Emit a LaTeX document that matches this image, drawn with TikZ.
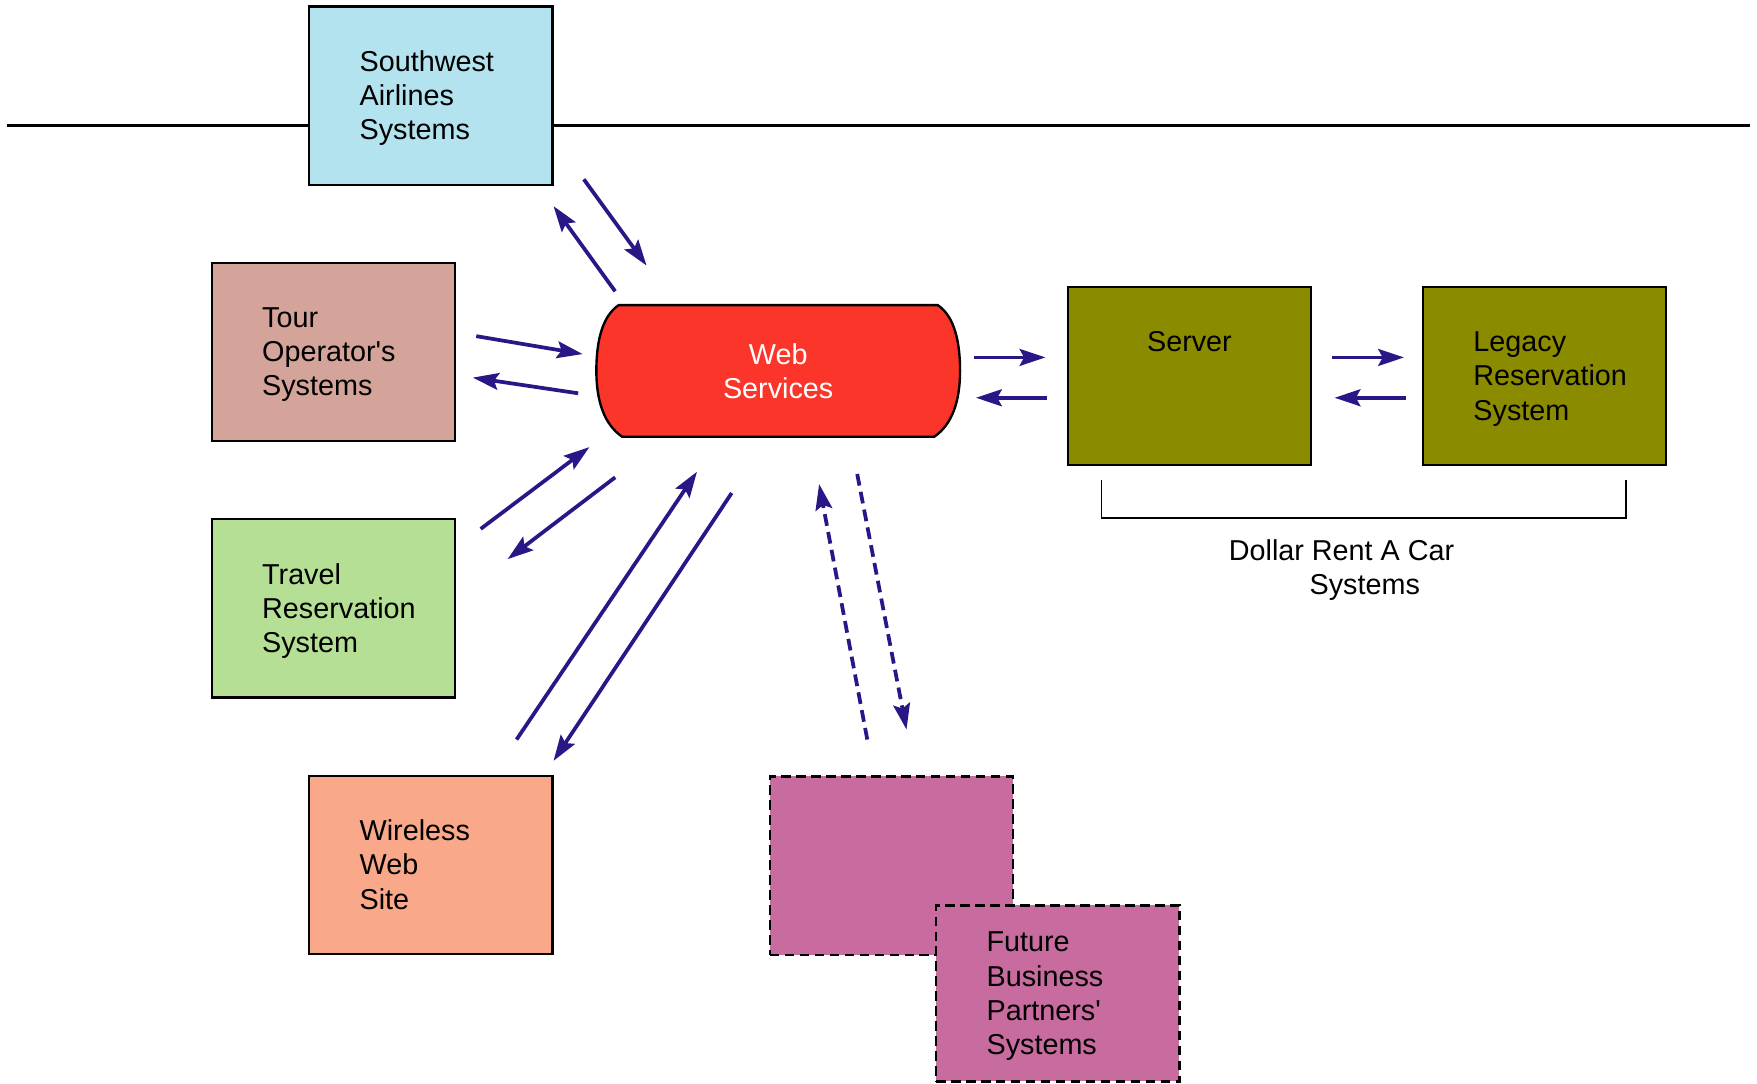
\documentclass[tikz,border=0pt]{standalone}
\usepackage{fontspec}
\setmainfont{Liberation Sans}
\usetikzlibrary{arrows.meta, calc}
\definecolor{swblue}{RGB}{179,227,238}
\definecolor{tourrose}{RGB}{212,164,154}
\definecolor{travelgreen}{RGB}{180,223,149}
\definecolor{wirelesspeach}{RGB}{249,169,138}
\definecolor{wsred}{RGB}{251,53,41}
\definecolor{dollarolive}{RGB}{139,139,0}
\definecolor{partnerpink}{RGB}{200,107,158}
\definecolor{flowblue}{RGB}{42,22,135}

\begin{document}
\begin{tikzpicture}[x=0.01cm, y=-0.01cm,
    font=\fontsize{7.3}{8.7}\selectfont,
    sysbox/.style={draw, line width=0.6pt, minimum height=1.59cm, text width=1.27cm,
        inner xsep=0.45cm, inner ysep=0pt, align=left,
        execute at begin node={\rule{0pt}{7pt}},
        execute at end node={\rule[-2pt]{0pt}{2pt}}},
    partnerbox/.style={sysbox, fill=partnerpink, dash pattern=on 2.4pt off 1.4pt},
    flow/.style={color=flowblue, line width=0.95pt,
        -{Stealth[length=0.23cm, width=0.15cm, inset=0.04cm]}},
    futureflow/.style={flow, dash pattern=on 3pt off 1.6pt}]
    \useasboundingbox (0,0) rectangle (1568,967);

    % dividing line behind the airline box
    \coordinate (lineL) at (6,112);
    \coordinate (lineR) at (1562,112);
    \draw[line width=0.8pt] (lineL) -- (lineR);

    \node[sysbox, fill=swblue] (sw) at (384.5,85.5) {Southwest\\Airlines\\Systems};
    \node[sysbox, fill=tourrose] (tour) at (297.5,314) {Tour\\Operator\textquotesingle s\\Systems};
    \node[sysbox, fill=travelgreen] (travel) at (297.5,543) {Travel\\Reservation\\System};
    \node[sysbox, fill=wirelesspeach] (wireless) at (384.5,772) {Wireless\\Web\\Site};
    \node[sysbox, fill=dollarolive, align=center] (server) at (1061.5,335.5) {Server\\\mbox{}\\\mbox{}};
    \node[sysbox, fill=dollarolive] (legacy) at (1378.5,335.5) {Legacy\\Reservation\\System};
    \node[partnerbox] (partnerback) at (795.5,772.5) {};
    \node[partnerbox, minimum height=1.57cm] (partner) at (944,886.5) {Future\\Business\\Partners\textquotesingle\\Systems};

    % web services hub with bulging ends
    \node[minimum width=3.23cm, minimum height=1.16cm, inner sep=0pt] (ws) at (694.5,331) {};
    \draw[line width=0.6pt, fill=wsred]
        ($(ws.north west)+(20,0)$) -- ($(ws.north east)+(-20,0)$)
        .. controls ($(ws.north east)+(-5,10)$) and ($(ws.east)+(0,-26)$) .. (ws.east)
        .. controls ($(ws.east)+(0,27)$) and ($(ws.south east)+(-7,-11)$) .. ($(ws.south east)+(-23,0)$)
        -- ($(ws.south west)+(23,0)$)
        .. controls ($(ws.south west)+(7,-11)$) and ($(ws.west)+(0,27)$) .. (ws.west)
        .. controls ($(ws.west)+(0,-26)$) and ($(ws.north west)+(5,10)$) .. cycle;
    \node[text=white, align=center] (wstext) at (ws) {Web\\Services};

    % bracket round the Dollar systems
    \coordinate (brL) at (983,428);
    \coordinate (brR) at (1451,428);
    \draw[line width=0.5pt] (brL) -- ++(0,34) -| (brR);
    \node[anchor=west, align=left, inner sep=0pt] (dollar) at (1096,508.5) {Dollar Rent A Car\\\hspace*{0.72cm}Systems};

    % message flows
    \foreach \n/\xa/\ya/\xb/\yb in {swA/521/160/577/237, swB/549/260/494/184,
        tourA/425/300/520/316, tourB/516/351/422/337,
        travelA/429/472/526/399, travelB/549/426/453/499,
        wirelessA/461/660/622/421, wirelessB/653/440/494/679,
        serverA/869/319/933/319, serverB/934/355/871/355,
        legacyA/1189/319/1253/319, legacyB/1255/355/1191/355} {
        \coordinate (\n-s) at (\xa,\ya);
        \coordinate (\n-e) at (\xb,\yb);
        \draw[flow] (\n-s) -- (\n-e);
    }
    \coordinate (futureA-s) at (774,660);
    \coordinate (futureA-e) at (731,432);
    \coordinate (futureB-s) at (765,423);
    \coordinate (futureB-e) at (809,651);
    \draw[futureflow] (futureA-s) -- (futureA-e);
    \draw[futureflow] (futureB-s) -- (futureB-e);
\end{tikzpicture}
\end{document}
